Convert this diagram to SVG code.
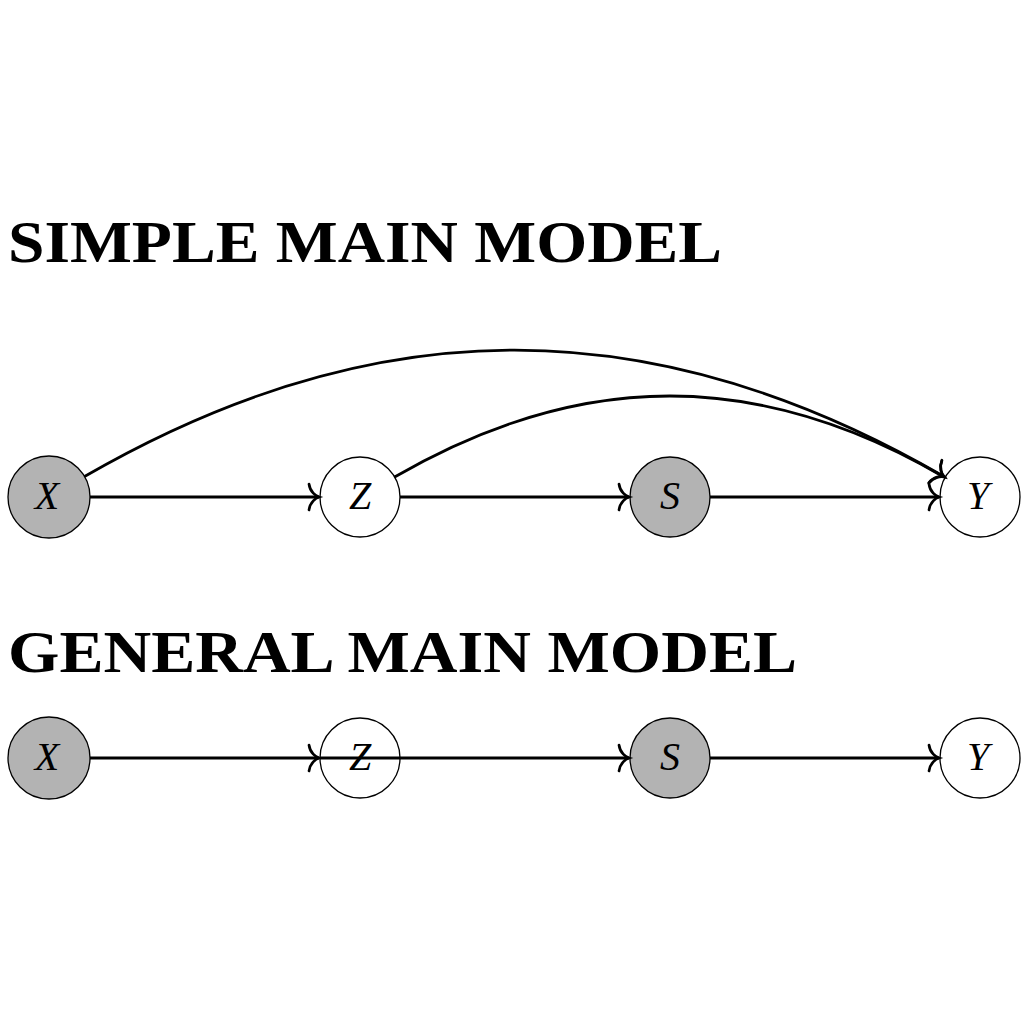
<svg xmlns="http://www.w3.org/2000/svg" width="1024" height="1024" viewBox="0 0 1024 1024">
<style>
.title{font-family:"Liberation Serif","DejaVu Serif",serif;font-weight:bold;font-size:60px;fill:#000}
.lbl{font-family:"Liberation Serif","DejaVu Serif",serif;font-style:italic;font-size:40px;fill:#000;text-anchor:middle}
.obs{fill:#b3b3b3;stroke:#000;stroke-width:1.3}
.lat{fill:#fff;stroke:#000;stroke-width:1.3}
.edge{fill:none;stroke:#000;stroke-width:2.8;marker-end:url(#arr)}
</style>
<defs>
<marker id="arr" markerUnits="userSpaceOnUse" markerWidth="30" markerHeight="32" viewBox="-15 -16 17 32" refX="0" refY="0" orient="auto" overflow="visible">
<path d="M -10,-13 C -9,-5 -3,-1 0,0 C -3,1 -9,5 -10,13" fill="none" stroke="#000" stroke-width="2.7" stroke-linecap="round"/>
</marker>
</defs>
<rect width="1024" height="1024" fill="#fff"/>
<text class="title" x="8" y="262" textLength="714" lengthAdjust="spacingAndGlyphs">SIMPLE MAIN MODEL</text>
<text class="title" x="8" y="672" textLength="789" lengthAdjust="spacingAndGlyphs">GENERAL MAIN MODEL</text>
<g id="top-nodes">
<g id="X1"><circle class="obs" cx="49" cy="497" r="41"/><text class="lbl" x="47" y="509">X</text></g>
<g id="Z1"><circle class="lat" cx="360" cy="497" r="40"/><text class="lbl" x="360" y="509">Z</text></g>
<g id="S1"><circle class="obs" cx="670" cy="497" r="40"/><text class="lbl" x="670" y="509">S</text></g>
<g id="Y1"><circle class="lat" cx="980" cy="497" r="40"/><text class="lbl" x="978" y="509">Y</text></g>
</g>
<g id="bottom-nodes">
<g id="X2"><circle class="obs" cx="49" cy="758" r="41"/><text class="lbl" x="47" y="770">X</text></g>
<g id="Z2"><circle class="lat" cx="360" cy="758" r="40" style="fill:none"/><text class="lbl" x="360" y="770">Z</text></g>
<g id="S2"><circle class="obs" cx="670" cy="758" r="40"/><text class="lbl" x="670" y="770">S</text></g>
<g id="Y2"><circle class="lat" cx="980" cy="758" r="40"/><text class="lbl" x="978" y="770">Y</text></g>
</g>
<g id="connectors">
<path class="edge" d="M 90,497 L 319,497"/>
<path class="edge" d="M 400,497 L 629,497"/>
<path class="edge" d="M 710,497 L 939,497"/>
<path class="edge" d="M 84.5,476.5 C 376,308 653,308 944,476.5"/>
<path class="edge" d="M 394.6,477 C 581,369 759,369 944,477"/>
<path class="edge" d="M 90,758 L 319,758"/>
<path class="edge" d="M 320,758 L 629,758"/>
<path class="edge" d="M 710,758 L 939,758"/>
</g>
</svg>
